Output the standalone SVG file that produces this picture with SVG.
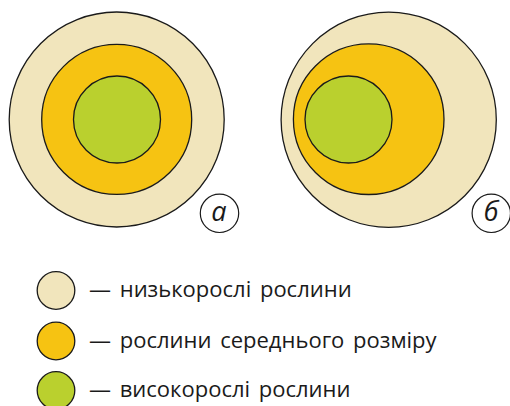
<svg xmlns="http://www.w3.org/2000/svg" width="510" height="406" viewBox="0 0 510 406">
<style>
.c{stroke:#1a1a1a;stroke-width:1.3}
.low{fill:#F1E5BC}
.mid{fill:#F6C312}
.high{fill:#BAD02E}
.lbl{fill:#fff;stroke:#1a1a1a;stroke-width:1.2}
.let{font-family:"Open Sans","Noto Sans",sans-serif;font-style:italic;font-size:27px;fill:#1a1a1a;text-anchor:middle}
.t{font-family:"Open Sans","Noto Sans",sans-serif;font-size:22px;fill:#1a1a1a;word-spacing:3px}
</style>
<rect width="510" height="406" fill="#fff"/>
<g id="diagram-a">
<circle class="c low" cx="116.7" cy="119.5" r="107.5"/>
<circle class="c mid" cx="116.7" cy="119.4" r="75"/>
<circle class="c high" cx="117" cy="119.5" r="43.5"/>
<circle class="lbl" cx="219.5" cy="213.3" r="19.2"/>
<text class="let" x="219" y="221">а</text>
</g>
<g id="diagram-b">
<circle class="c low" cx="388.7" cy="119.7" r="107.6"/>
<circle class="c mid" cx="368.7" cy="119.2" r="75.3"/>
<circle class="c high" cx="348.5" cy="119.5" r="43.5"/>
<circle class="lbl" cx="491.3" cy="213.3" r="19.2"/>
<text class="let" x="491" y="221">б</text>
</g>
<g id="legend-low">
<circle class="c low" cx="56" cy="290.5" r="18.8"/>
<text class="t" x="89" y="297">— низькорослі рослини</text>
</g>
<g id="legend-mid">
<circle class="c mid" cx="56" cy="341" r="18.8"/>
<text class="t" x="89" y="347.5">— рослини середнього розміру</text>
</g>
<g id="legend-high">
<circle class="c high" cx="56" cy="390.5" r="18.8"/>
<text class="t" x="89" y="397">— високорослі рослини</text>
</g>
</svg>
